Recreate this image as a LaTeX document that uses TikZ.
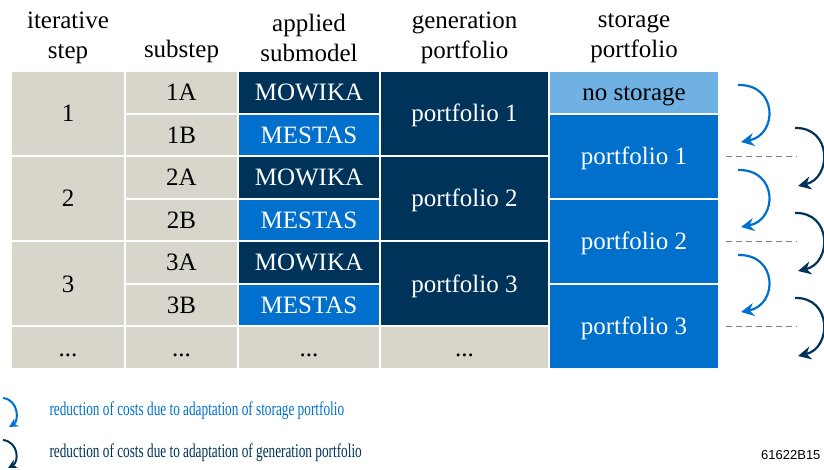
\documentclass[tikz,border=0pt]{standalone}
\usepackage{fontspec}
\setmainfont{Liberation Serif}
\setsansfont{Liberation Sans}
\usepackage{graphicx}
\usepackage{tikz}
\usetikzlibrary{arrows.meta,positioning,calc}
\definecolor{sand}{HTML}{D8D6CA}
\definecolor{navy}{HTML}{00335A}
\definecolor{midblue}{HTML}{0070CC}
\definecolor{lightblue}{HTML}{70B1E3}
\tikzset{
  cell/.style={draw=white,line width=2pt,align=center,inner sep=0pt,
               text height=17pt,text depth=0.4pt,
               font=\fontsize{25}{30}\selectfont},
  gcell/.style={cell,fill=sand,text=black},
  ncell/.style={cell,fill=navy,text=white},
  bcell/.style={cell,fill=midblue,text=white},
  lcell/.style={cell,fill=lightblue,text=black},
  head/.style={align=center,font=\fontsize{25}{30}\selectfont},
  sarr/.style={-{Stealth[length=13pt,width=13pt]},line width=2.2pt,midblue},
  garr/.style={sarr,navy},
  legarr/.style={-{Stealth[length=9pt,width=9pt]},line width=2pt},
  legtext/.style={anchor=west,font=\fontsize{19.5}{22}\selectfont},
  dline/.style={gray,dash pattern=on 6pt off 4pt,line width=1.1pt},
}

\begin{document}
\begin{tikzpicture}[x=1pt,y=-1pt]
\useasboundingbox (0,0) rectangle (824,470);
% column heads
\node[head] (hstep) at (68,38) {iterative\\step};
\node[head,anchor=base] (hsub) at (181.5,58) {substep};
\node[head] (hmod) at (309,38) {applied\\submodel};
\node[head] (hgen) at (464.5,38) {generation\\portfolio};
\node[head] (hsto) at (634,38) {storage\\portfolio};
% steps, substeps, submodels, generation
\foreach \i/\y in {1/113.6,2/198.7,3/283.8}{
  \node[gcell,minimum width=114pt,minimum height=85.1pt] (step\i) at (68,\y) {\i};
  \node[gcell,minimum width=113pt,minimum height=42.6pt] (sub\i A) at (181.5,\y-21.3) {\i A};
  \node[gcell,minimum width=113pt,minimum height=42.6pt] (sub\i B) at (181.5,\y+21.3) {\i B};
  \node[ncell,minimum width=142pt,minimum height=42.6pt] (mod\i A) at (309,\y-21.3) {MOWIKA};
  \node[bcell,minimum width=142pt,minimum height=42.6pt] (mod\i B) at (309,\y+21.3) {MESTAS};
  \node[ncell,minimum width=169pt,minimum height=85.1pt] (gen\i) at (464.5,\y) {portfolio \i};
}
% last row
\node[gcell,minimum width=114pt,minimum height=42.6pt] (step4) at (68,347.7) {...};
\node[gcell,minimum width=113pt,minimum height=42.6pt] (sub4) at (181.5,347.7) {...};
\node[gcell,minimum width=142pt,minimum height=42.6pt] (mod4) at (309,347.7) {...};
\node[gcell,minimum width=169pt,minimum height=42.6pt] (gen4) at (464.5,347.7) {...};
% storage
\node[lcell,minimum width=170pt,minimum height=42.6pt] (sto0) at (634,92.3) {no storage};
\foreach \i/\y in {1/156.1,2/241.3,3/326.4}{
  \node[bcell,minimum width=170pt,minimum height=85.1pt] (sto\i) at (634,\y) {portfolio \i};
  \coordinate (dend\i) at (797,\y);
  \draw[dline] ([xshift=6pt]sto\i.east) -- (dend\i);
}
% cost reduction arrows
\foreach \k/\y in {1/85,2/170,3/255}{
  \coordinate (sa\k) at (738,\y);
  \coordinate (sb\k) at (741,\y+57);
  \draw[sarr] (sa\k) .. controls (778,\y-1) and (778,\y+50) .. (sb\k);
}
\foreach \k/\y in {1/128,2/213,3/298}{
  \coordinate (ga\k) at (795,\y);
  \coordinate (gb\k) at (798,\y+58);
  \draw[garr] (ga\k) .. controls (832,\y-1) and (832,\y+50) .. (gb\k);
}
% legend
\coordinate (la1) at (3,398);
\coordinate (lb1) at (9,427);
\draw[legarr,midblue] (la1) .. controls (19,400) and (19,421) .. (lb1);
\coordinate (la2) at (3,440);
\coordinate (lb2) at (8,468);
\draw[legarr,navy] (la2) .. controls (19,442) and (19,462) .. (lb2);
\node[legtext,text=midblue] (leg1) at (46,411)
  {\scalebox{0.68}[1]{reduction of costs due to adaptation of storage portfolio}};
\node[legtext,text=navy] (leg2) at (46,453)
  {\scalebox{0.68}[1]{reduction of costs due to adaptation of generation portfolio}};
\node[anchor=east,font=\sffamily\fontsize{13}{15}\selectfont] (figid) at (824,455) {61622B15};
\end{tikzpicture}
\end{document}
